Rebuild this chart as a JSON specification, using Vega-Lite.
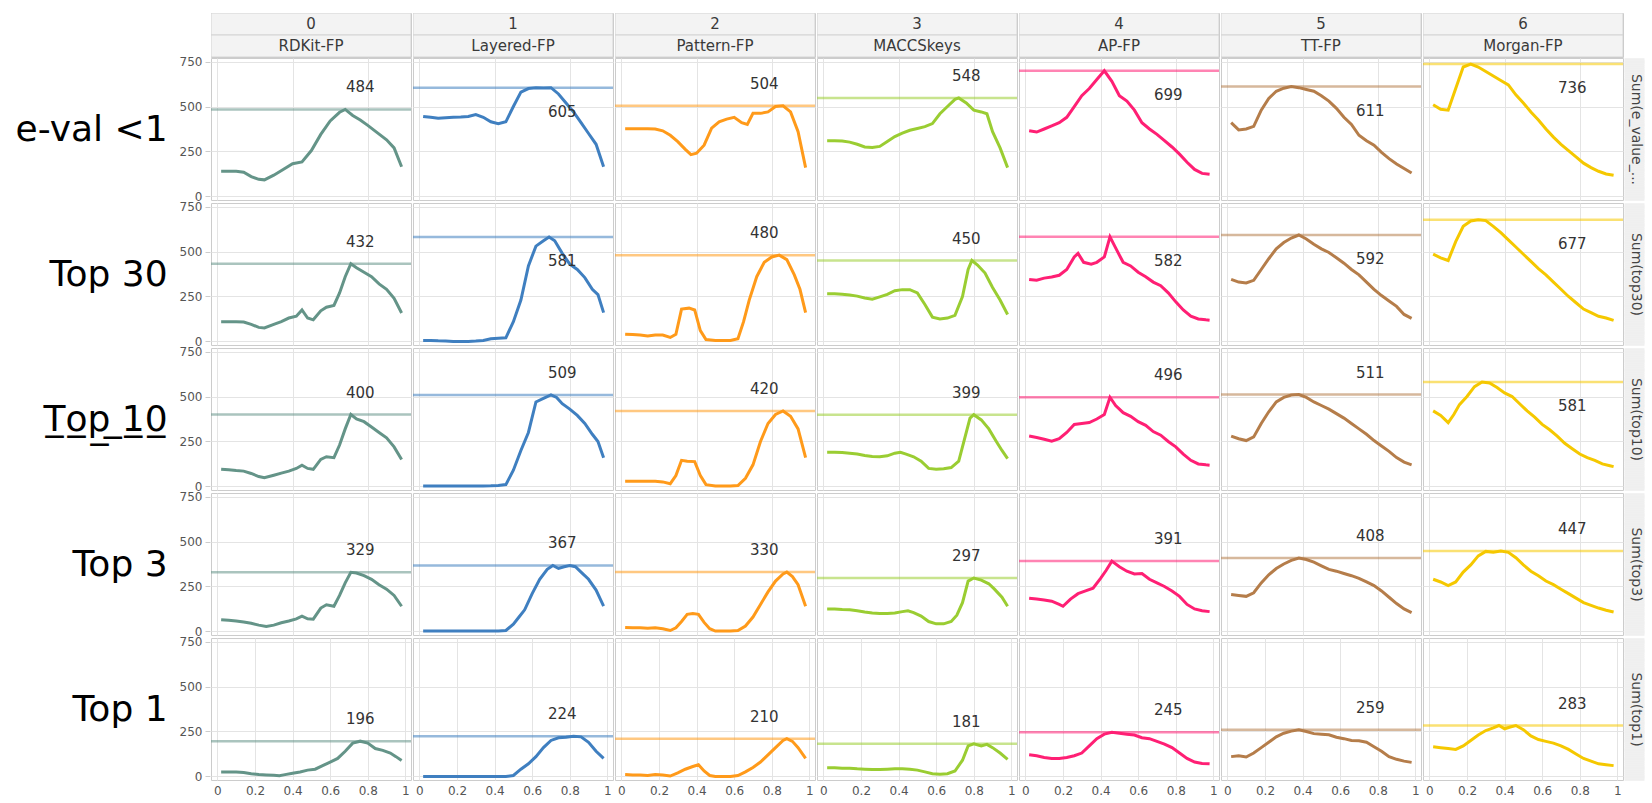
{
"$schema":"https://vega.github.io/schema/vega-lite/v6.json",
"background":"white",
"padding":{"left":15,"top":12,"right":0,"bottom":0},
"spacing":-5,
"config":{"view":{"stroke":"#cccccc"},"font":"DejaVu Sans","facet":{"spacing":0},
"axis":{"gridColor":"#e4e4e4","labelFont":"DejaVu Sans","labelColor":"#555555","labelFontSize":12,"titleFont":"DejaVu Sans"},
"axisX":{"labelOverlap":false,"labelSeparation":0}},
"datasets":{
"h":[{"f":0,"l":1,"t":"0"},{"f":0,"l":2,"t":"RDKit-FP"},{"f":1,"l":1,"t":"1"},{"f":1,"l":2,"t":"Layered-FP"},{"f":2,"l":1,"t":"2"},{"f":2,"l":2,"t":"Pattern-FP"},{"f":3,"l":1,"t":"3"},{"f":3,"l":2,"t":"MACCSkeys"},{"f":4,"l":1,"t":"4"},{"f":4,"l":2,"t":"AP-FP"},{"f":5,"l":1,"t":"5"},{"f":5,"l":2,"t":"TT-FP"},{"f":6,"l":1,"t":"6"},{"f":6,"l":2,"t":"Morgan-FP"}],
"d":[
{"r":"e","f":0,"x":0.02,"v":140},{"r":"e","f":0,"x":0.06,"v":140},{"r":"e","f":0,"x":0.1,"v":140},{"r":"e","f":0,"x":0.14,"v":135},{"r":"e","f":0,"x":0.18,"v":110},{"r":"e","f":0,"x":0.22,"v":95},{"r":"e","f":0,"x":0.25,"v":92},{"r":"e","f":0,"x":0.3,"v":118},{"r":"e","f":0,"x":0.35,"v":150},{"r":"e","f":0,"x":0.4,"v":182},{"r":"e","f":0,"x":0.45,"v":192},{"r":"e","f":0,"x":0.5,"v":255},{"r":"e","f":0,"x":0.55,"v":345},{"r":"e","f":0,"x":0.6,"v":420},{"r":"e","f":0,"x":0.65,"v":468},{"r":"e","f":0,"x":0.68,"v":484},{"r":"e","f":0,"x":0.72,"v":450},{"r":"e","f":0,"x":0.76,"v":425},{"r":"e","f":0,"x":0.8,"v":395},{"r":"e","f":0,"x":0.85,"v":355},{"r":"e","f":0,"x":0.9,"v":315},{"r":"e","f":0,"x":0.94,"v":270},{"r":"e","f":0,"x":0.98,"v":165},
{"r":"e","f":1,"x":0.02,"v":445},{"r":"e","f":1,"x":0.06,"v":440},{"r":"e","f":1,"x":0.1,"v":435},{"r":"e","f":1,"x":0.14,"v":438},{"r":"e","f":1,"x":0.18,"v":440},{"r":"e","f":1,"x":0.22,"v":442},{"r":"e","f":1,"x":0.26,"v":445},{"r":"e","f":1,"x":0.3,"v":455},{"r":"e","f":1,"x":0.34,"v":440},{"r":"e","f":1,"x":0.38,"v":415},{"r":"e","f":1,"x":0.42,"v":405},{"r":"e","f":1,"x":0.46,"v":415},{"r":"e","f":1,"x":0.5,"v":500},{"r":"e","f":1,"x":0.54,"v":580},{"r":"e","f":1,"x":0.58,"v":600},{"r":"e","f":1,"x":0.62,"v":605},{"r":"e","f":1,"x":0.66,"v":603},{"r":"e","f":1,"x":0.7,"v":605},{"r":"e","f":1,"x":0.74,"v":570},{"r":"e","f":1,"x":0.78,"v":520},{"r":"e","f":1,"x":0.82,"v":470},{"r":"e","f":1,"x":0.86,"v":410},{"r":"e","f":1,"x":0.9,"v":350},{"r":"e","f":1,"x":0.94,"v":290},{"r":"e","f":1,"x":0.98,"v":165},
{"r":"e","f":2,"x":0.02,"v":376},{"r":"e","f":2,"x":0.06,"v":376},{"r":"e","f":2,"x":0.1,"v":376},{"r":"e","f":2,"x":0.14,"v":376},{"r":"e","f":2,"x":0.18,"v":375},{"r":"e","f":2,"x":0.22,"v":365},{"r":"e","f":2,"x":0.26,"v":340},{"r":"e","f":2,"x":0.3,"v":305},{"r":"e","f":2,"x":0.34,"v":262},{"r":"e","f":2,"x":0.37,"v":232},{"r":"e","f":2,"x":0.4,"v":240},{"r":"e","f":2,"x":0.44,"v":285},{"r":"e","f":2,"x":0.48,"v":380},{"r":"e","f":2,"x":0.52,"v":415},{"r":"e","f":2,"x":0.56,"v":430},{"r":"e","f":2,"x":0.6,"v":440},{"r":"e","f":2,"x":0.64,"v":410},{"r":"e","f":2,"x":0.67,"v":400},{"r":"e","f":2,"x":0.7,"v":462},{"r":"e","f":2,"x":0.74,"v":462},{"r":"e","f":2,"x":0.78,"v":470},{"r":"e","f":2,"x":0.82,"v":500},{"r":"e","f":2,"x":0.86,"v":504},{"r":"e","f":2,"x":0.9,"v":470},{"r":"e","f":2,"x":0.94,"v":360},{"r":"e","f":2,"x":0.98,"v":160},
{"r":"e","f":3,"x":0.02,"v":310},{"r":"e","f":3,"x":0.06,"v":310},{"r":"e","f":3,"x":0.1,"v":308},{"r":"e","f":3,"x":0.14,"v":302},{"r":"e","f":3,"x":0.18,"v":290},{"r":"e","f":3,"x":0.22,"v":275},{"r":"e","f":3,"x":0.26,"v":272},{"r":"e","f":3,"x":0.3,"v":278},{"r":"e","f":3,"x":0.34,"v":305},{"r":"e","f":3,"x":0.38,"v":333},{"r":"e","f":3,"x":0.42,"v":352},{"r":"e","f":3,"x":0.46,"v":368},{"r":"e","f":3,"x":0.5,"v":378},{"r":"e","f":3,"x":0.54,"v":388},{"r":"e","f":3,"x":0.58,"v":405},{"r":"e","f":3,"x":0.62,"v":460},{"r":"e","f":3,"x":0.66,"v":500},{"r":"e","f":3,"x":0.7,"v":540},{"r":"e","f":3,"x":0.72,"v":548},{"r":"e","f":3,"x":0.76,"v":520},{"r":"e","f":3,"x":0.8,"v":480},{"r":"e","f":3,"x":0.84,"v":470},{"r":"e","f":3,"x":0.87,"v":460},{"r":"e","f":3,"x":0.9,"v":360},{"r":"e","f":3,"x":0.94,"v":270},{"r":"e","f":3,"x":0.98,"v":160},
{"r":"e","f":4,"x":0.02,"v":365},{"r":"e","f":4,"x":0.06,"v":358},{"r":"e","f":4,"x":0.1,"v":375},{"r":"e","f":4,"x":0.14,"v":392},{"r":"e","f":4,"x":0.18,"v":410},{"r":"e","f":4,"x":0.22,"v":440},{"r":"e","f":4,"x":0.26,"v":500},{"r":"e","f":4,"x":0.3,"v":560},{"r":"e","f":4,"x":0.34,"v":600},{"r":"e","f":4,"x":0.38,"v":650},{"r":"e","f":4,"x":0.42,"v":699},{"r":"e","f":4,"x":0.46,"v":640},{"r":"e","f":4,"x":0.5,"v":560},{"r":"e","f":4,"x":0.54,"v":530},{"r":"e","f":4,"x":0.58,"v":480},{"r":"e","f":4,"x":0.62,"v":410},{"r":"e","f":4,"x":0.66,"v":375},{"r":"e","f":4,"x":0.7,"v":345},{"r":"e","f":4,"x":0.74,"v":310},{"r":"e","f":4,"x":0.78,"v":275},{"r":"e","f":4,"x":0.82,"v":235},{"r":"e","f":4,"x":0.86,"v":190},{"r":"e","f":4,"x":0.9,"v":150},{"r":"e","f":4,"x":0.94,"v":128},{"r":"e","f":4,"x":0.98,"v":123},
{"r":"e","f":5,"x":0.02,"v":410},{"r":"e","f":5,"x":0.06,"v":370},{"r":"e","f":5,"x":0.1,"v":375},{"r":"e","f":5,"x":0.14,"v":390},{"r":"e","f":5,"x":0.18,"v":480},{"r":"e","f":5,"x":0.22,"v":545},{"r":"e","f":5,"x":0.26,"v":585},{"r":"e","f":5,"x":0.3,"v":602},{"r":"e","f":5,"x":0.34,"v":611},{"r":"e","f":5,"x":0.38,"v":605},{"r":"e","f":5,"x":0.42,"v":595},{"r":"e","f":5,"x":0.46,"v":585},{"r":"e","f":5,"x":0.5,"v":560},{"r":"e","f":5,"x":0.54,"v":530},{"r":"e","f":5,"x":0.58,"v":490},{"r":"e","f":5,"x":0.62,"v":440},{"r":"e","f":5,"x":0.66,"v":400},{"r":"e","f":5,"x":0.7,"v":340},{"r":"e","f":5,"x":0.74,"v":310},{"r":"e","f":5,"x":0.78,"v":285},{"r":"e","f":5,"x":0.82,"v":245},{"r":"e","f":5,"x":0.86,"v":210},{"r":"e","f":5,"x":0.9,"v":180},{"r":"e","f":5,"x":0.94,"v":155},{"r":"e","f":5,"x":0.98,"v":130},
{"r":"e","f":6,"x":0.02,"v":510},{"r":"e","f":6,"x":0.06,"v":485},{"r":"e","f":6,"x":0.1,"v":480},{"r":"e","f":6,"x":0.14,"v":600},{"r":"e","f":6,"x":0.18,"v":720},{"r":"e","f":6,"x":0.22,"v":736},{"r":"e","f":6,"x":0.26,"v":720},{"r":"e","f":6,"x":0.3,"v":695},{"r":"e","f":6,"x":0.34,"v":670},{"r":"e","f":6,"x":0.38,"v":645},{"r":"e","f":6,"x":0.42,"v":620},{"r":"e","f":6,"x":0.46,"v":565},{"r":"e","f":6,"x":0.5,"v":520},{"r":"e","f":6,"x":0.54,"v":470},{"r":"e","f":6,"x":0.58,"v":425},{"r":"e","f":6,"x":0.62,"v":375},{"r":"e","f":6,"x":0.66,"v":330},{"r":"e","f":6,"x":0.7,"v":290},{"r":"e","f":6,"x":0.74,"v":255},{"r":"e","f":6,"x":0.78,"v":220},{"r":"e","f":6,"x":0.82,"v":185},{"r":"e","f":6,"x":0.86,"v":160},{"r":"e","f":6,"x":0.9,"v":140},{"r":"e","f":6,"x":0.94,"v":125},{"r":"e","f":6,"x":0.98,"v":118},
{"r":"t30","f":0,"x":0.02,"v":110},{"r":"t30","f":0,"x":0.06,"v":110},{"r":"t30","f":0,"x":0.1,"v":110},{"r":"t30","f":0,"x":0.14,"v":108},{"r":"t30","f":0,"x":0.18,"v":95},{"r":"t30","f":0,"x":0.22,"v":78},{"r":"t30","f":0,"x":0.25,"v":75},{"r":"t30","f":0,"x":0.3,"v":95},{"r":"t30","f":0,"x":0.34,"v":110},{"r":"t30","f":0,"x":0.38,"v":130},{"r":"t30","f":0,"x":0.42,"v":140},{"r":"t30","f":0,"x":0.45,"v":175},{"r":"t30","f":0,"x":0.48,"v":130},{"r":"t30","f":0,"x":0.51,"v":120},{"r":"t30","f":0,"x":0.55,"v":170},{"r":"t30","f":0,"x":0.58,"v":190},{"r":"t30","f":0,"x":0.62,"v":200},{"r":"t30","f":0,"x":0.65,"v":270},{"r":"t30","f":0,"x":0.68,"v":360},{"r":"t30","f":0,"x":0.71,"v":432},{"r":"t30","f":0,"x":0.74,"v":410},{"r":"t30","f":0,"x":0.78,"v":385},{"r":"t30","f":0,"x":0.82,"v":360},{"r":"t30","f":0,"x":0.86,"v":320},{"r":"t30","f":0,"x":0.9,"v":290},{"r":"t30","f":0,"x":0.94,"v":240},{"r":"t30","f":0,"x":0.98,"v":158},
{"r":"t30","f":1,"x":0.02,"v":5},{"r":"t30","f":1,"x":0.06,"v":5},{"r":"t30","f":1,"x":0.1,"v":3},{"r":"t30","f":1,"x":0.14,"v":2},{"r":"t30","f":1,"x":0.18,"v":0},{"r":"t30","f":1,"x":0.22,"v":0},{"r":"t30","f":1,"x":0.26,"v":0},{"r":"t30","f":1,"x":0.3,"v":2},{"r":"t30","f":1,"x":0.34,"v":5},{"r":"t30","f":1,"x":0.38,"v":15},{"r":"t30","f":1,"x":0.42,"v":18},{"r":"t30","f":1,"x":0.46,"v":20},{"r":"t30","f":1,"x":0.5,"v":110},{"r":"t30","f":1,"x":0.54,"v":230},{"r":"t30","f":1,"x":0.58,"v":420},{"r":"t30","f":1,"x":0.62,"v":530},{"r":"t30","f":1,"x":0.66,"v":560},{"r":"t30","f":1,"x":0.69,"v":581},{"r":"t30","f":1,"x":0.72,"v":560},{"r":"t30","f":1,"x":0.76,"v":490},{"r":"t30","f":1,"x":0.8,"v":430},{"r":"t30","f":1,"x":0.84,"v":400},{"r":"t30","f":1,"x":0.88,"v":355},{"r":"t30","f":1,"x":0.92,"v":290},{"r":"t30","f":1,"x":0.95,"v":260},{"r":"t30","f":1,"x":0.98,"v":160},
{"r":"t30","f":2,"x":0.02,"v":40},{"r":"t30","f":2,"x":0.06,"v":38},{"r":"t30","f":2,"x":0.1,"v":35},{"r":"t30","f":2,"x":0.14,"v":30},{"r":"t30","f":2,"x":0.18,"v":35},{"r":"t30","f":2,"x":0.22,"v":35},{"r":"t30","f":2,"x":0.26,"v":22},{"r":"t30","f":2,"x":0.29,"v":40},{"r":"t30","f":2,"x":0.32,"v":180},{"r":"t30","f":2,"x":0.36,"v":185},{"r":"t30","f":2,"x":0.39,"v":175},{"r":"t30","f":2,"x":0.42,"v":60},{"r":"t30","f":2,"x":0.45,"v":10},{"r":"t30","f":2,"x":0.5,"v":5},{"r":"t30","f":2,"x":0.54,"v":5},{"r":"t30","f":2,"x":0.58,"v":5},{"r":"t30","f":2,"x":0.62,"v":15},{"r":"t30","f":2,"x":0.65,"v":110},{"r":"t30","f":2,"x":0.68,"v":230},{"r":"t30","f":2,"x":0.72,"v":360},{"r":"t30","f":2,"x":0.76,"v":440},{"r":"t30","f":2,"x":0.8,"v":470},{"r":"t30","f":2,"x":0.84,"v":480},{"r":"t30","f":2,"x":0.88,"v":455},{"r":"t30","f":2,"x":0.92,"v":370},{"r":"t30","f":2,"x":0.95,"v":290},{"r":"t30","f":2,"x":0.98,"v":160},
{"r":"t30","f":3,"x":0.02,"v":265},{"r":"t30","f":3,"x":0.06,"v":265},{"r":"t30","f":3,"x":0.1,"v":262},{"r":"t30","f":3,"x":0.14,"v":258},{"r":"t30","f":3,"x":0.18,"v":252},{"r":"t30","f":3,"x":0.22,"v":242},{"r":"t30","f":3,"x":0.26,"v":235},{"r":"t30","f":3,"x":0.3,"v":248},{"r":"t30","f":3,"x":0.34,"v":262},{"r":"t30","f":3,"x":0.38,"v":282},{"r":"t30","f":3,"x":0.42,"v":288},{"r":"t30","f":3,"x":0.46,"v":288},{"r":"t30","f":3,"x":0.5,"v":270},{"r":"t30","f":3,"x":0.54,"v":205},{"r":"t30","f":3,"x":0.58,"v":135},{"r":"t30","f":3,"x":0.62,"v":125},{"r":"t30","f":3,"x":0.66,"v":130},{"r":"t30","f":3,"x":0.7,"v":145},{"r":"t30","f":3,"x":0.74,"v":250},{"r":"t30","f":3,"x":0.77,"v":400},{"r":"t30","f":3,"x":0.79,"v":450},{"r":"t30","f":3,"x":0.82,"v":425},{"r":"t30","f":3,"x":0.86,"v":380},{"r":"t30","f":3,"x":0.9,"v":300},{"r":"t30","f":3,"x":0.94,"v":230},{"r":"t30","f":3,"x":0.98,"v":150},
{"r":"t30","f":4,"x":0.02,"v":345},{"r":"t30","f":4,"x":0.06,"v":340},{"r":"t30","f":4,"x":0.1,"v":352},{"r":"t30","f":4,"x":0.14,"v":358},{"r":"t30","f":4,"x":0.18,"v":368},{"r":"t30","f":4,"x":0.22,"v":400},{"r":"t30","f":4,"x":0.26,"v":470},{"r":"t30","f":4,"x":0.28,"v":490},{"r":"t30","f":4,"x":0.31,"v":440},{"r":"t30","f":4,"x":0.35,"v":430},{"r":"t30","f":4,"x":0.38,"v":440},{"r":"t30","f":4,"x":0.42,"v":470},{"r":"t30","f":4,"x":0.45,"v":582},{"r":"t30","f":4,"x":0.48,"v":520},{"r":"t30","f":4,"x":0.52,"v":440},{"r":"t30","f":4,"x":0.56,"v":420},{"r":"t30","f":4,"x":0.6,"v":385},{"r":"t30","f":4,"x":0.64,"v":360},{"r":"t30","f":4,"x":0.68,"v":330},{"r":"t30","f":4,"x":0.72,"v":310},{"r":"t30","f":4,"x":0.76,"v":270},{"r":"t30","f":4,"x":0.8,"v":220},{"r":"t30","f":4,"x":0.84,"v":175},{"r":"t30","f":4,"x":0.88,"v":140},{"r":"t30","f":4,"x":0.92,"v":125},{"r":"t30","f":4,"x":0.96,"v":120},{"r":"t30","f":4,"x":0.98,"v":118},
{"r":"t30","f":5,"x":0.02,"v":345},{"r":"t30","f":5,"x":0.06,"v":330},{"r":"t30","f":5,"x":0.1,"v":325},{"r":"t30","f":5,"x":0.14,"v":340},{"r":"t30","f":5,"x":0.18,"v":400},{"r":"t30","f":5,"x":0.22,"v":460},{"r":"t30","f":5,"x":0.26,"v":515},{"r":"t30","f":5,"x":0.3,"v":550},{"r":"t30","f":5,"x":0.34,"v":575},{"r":"t30","f":5,"x":0.38,"v":592},{"r":"t30","f":5,"x":0.42,"v":570},{"r":"t30","f":5,"x":0.46,"v":540},{"r":"t30","f":5,"x":0.5,"v":515},{"r":"t30","f":5,"x":0.54,"v":495},{"r":"t30","f":5,"x":0.58,"v":465},{"r":"t30","f":5,"x":0.62,"v":435},{"r":"t30","f":5,"x":0.66,"v":400},{"r":"t30","f":5,"x":0.7,"v":370},{"r":"t30","f":5,"x":0.74,"v":330},{"r":"t30","f":5,"x":0.78,"v":290},{"r":"t30","f":5,"x":0.82,"v":255},{"r":"t30","f":5,"x":0.86,"v":225},{"r":"t30","f":5,"x":0.9,"v":195},{"r":"t30","f":5,"x":0.94,"v":150},{"r":"t30","f":5,"x":0.98,"v":128},
{"r":"t30","f":6,"x":0.02,"v":485},{"r":"t30","f":6,"x":0.06,"v":465},{"r":"t30","f":6,"x":0.1,"v":450},{"r":"t30","f":6,"x":0.14,"v":555},{"r":"t30","f":6,"x":0.18,"v":640},{"r":"t30","f":6,"x":0.22,"v":670},{"r":"t30","f":6,"x":0.26,"v":677},{"r":"t30","f":6,"x":0.3,"v":672},{"r":"t30","f":6,"x":0.34,"v":640},{"r":"t30","f":6,"x":0.38,"v":605},{"r":"t30","f":6,"x":0.42,"v":565},{"r":"t30","f":6,"x":0.46,"v":525},{"r":"t30","f":6,"x":0.5,"v":485},{"r":"t30","f":6,"x":0.54,"v":445},{"r":"t30","f":6,"x":0.58,"v":405},{"r":"t30","f":6,"x":0.62,"v":370},{"r":"t30","f":6,"x":0.66,"v":330},{"r":"t30","f":6,"x":0.7,"v":290},{"r":"t30","f":6,"x":0.74,"v":250},{"r":"t30","f":6,"x":0.78,"v":215},{"r":"t30","f":6,"x":0.82,"v":180},{"r":"t30","f":6,"x":0.86,"v":160},{"r":"t30","f":6,"x":0.9,"v":140},{"r":"t30","f":6,"x":0.94,"v":130},{"r":"t30","f":6,"x":0.98,"v":117},
{"r":"t10","f":0,"x":0.02,"v":95},{"r":"t10","f":0,"x":0.06,"v":92},{"r":"t10","f":0,"x":0.1,"v":88},{"r":"t10","f":0,"x":0.14,"v":85},{"r":"t10","f":0,"x":0.18,"v":72},{"r":"t10","f":0,"x":0.22,"v":55},{"r":"t10","f":0,"x":0.25,"v":48},{"r":"t10","f":0,"x":0.3,"v":62},{"r":"t10","f":0,"x":0.34,"v":74},{"r":"t10","f":0,"x":0.38,"v":85},{"r":"t10","f":0,"x":0.42,"v":100},{"r":"t10","f":0,"x":0.45,"v":118},{"r":"t10","f":0,"x":0.48,"v":100},{"r":"t10","f":0,"x":0.51,"v":95},{"r":"t10","f":0,"x":0.55,"v":150},{"r":"t10","f":0,"x":0.58,"v":165},{"r":"t10","f":0,"x":0.62,"v":160},{"r":"t10","f":0,"x":0.65,"v":230},{"r":"t10","f":0,"x":0.68,"v":320},{"r":"t10","f":0,"x":0.71,"v":400},{"r":"t10","f":0,"x":0.74,"v":375},{"r":"t10","f":0,"x":0.78,"v":360},{"r":"t10","f":0,"x":0.82,"v":330},{"r":"t10","f":0,"x":0.86,"v":300},{"r":"t10","f":0,"x":0.9,"v":270},{"r":"t10","f":0,"x":0.94,"v":220},{"r":"t10","f":0,"x":0.98,"v":150},
{"r":"t10","f":1,"x":0.02,"v":2},{"r":"t10","f":1,"x":0.06,"v":2},{"r":"t10","f":1,"x":0.1,"v":2},{"r":"t10","f":1,"x":0.14,"v":2},{"r":"t10","f":1,"x":0.18,"v":2},{"r":"t10","f":1,"x":0.22,"v":2},{"r":"t10","f":1,"x":0.26,"v":2},{"r":"t10","f":1,"x":0.3,"v":2},{"r":"t10","f":1,"x":0.34,"v":2},{"r":"t10","f":1,"x":0.38,"v":3},{"r":"t10","f":1,"x":0.42,"v":5},{"r":"t10","f":1,"x":0.46,"v":10},{"r":"t10","f":1,"x":0.5,"v":90},{"r":"t10","f":1,"x":0.54,"v":200},{"r":"t10","f":1,"x":0.58,"v":300},{"r":"t10","f":1,"x":0.62,"v":470},{"r":"t10","f":1,"x":0.66,"v":490},{"r":"t10","f":1,"x":0.7,"v":509},{"r":"t10","f":1,"x":0.73,"v":495},{"r":"t10","f":1,"x":0.76,"v":460},{"r":"t10","f":1,"x":0.8,"v":430},{"r":"t10","f":1,"x":0.84,"v":395},{"r":"t10","f":1,"x":0.88,"v":350},{"r":"t10","f":1,"x":0.92,"v":290},{"r":"t10","f":1,"x":0.95,"v":250},{"r":"t10","f":1,"x":0.98,"v":160},
{"r":"t10","f":2,"x":0.02,"v":28},{"r":"t10","f":2,"x":0.06,"v":28},{"r":"t10","f":2,"x":0.1,"v":28},{"r":"t10","f":2,"x":0.14,"v":28},{"r":"t10","f":2,"x":0.18,"v":28},{"r":"t10","f":2,"x":0.22,"v":25},{"r":"t10","f":2,"x":0.26,"v":15},{"r":"t10","f":2,"x":0.29,"v":60},{"r":"t10","f":2,"x":0.32,"v":145},{"r":"t10","f":2,"x":0.35,"v":140},{"r":"t10","f":2,"x":0.39,"v":138},{"r":"t10","f":2,"x":0.42,"v":60},{"r":"t10","f":2,"x":0.45,"v":10},{"r":"t10","f":2,"x":0.5,"v":2},{"r":"t10","f":2,"x":0.54,"v":2},{"r":"t10","f":2,"x":0.58,"v":2},{"r":"t10","f":2,"x":0.62,"v":5},{"r":"t10","f":2,"x":0.66,"v":45},{"r":"t10","f":2,"x":0.7,"v":120},{"r":"t10","f":2,"x":0.74,"v":250},{"r":"t10","f":2,"x":0.78,"v":350},{"r":"t10","f":2,"x":0.82,"v":400},{"r":"t10","f":2,"x":0.86,"v":420},{"r":"t10","f":2,"x":0.9,"v":390},{"r":"t10","f":2,"x":0.94,"v":320},{"r":"t10","f":2,"x":0.98,"v":160},
{"r":"t10","f":3,"x":0.02,"v":190},{"r":"t10","f":3,"x":0.06,"v":190},{"r":"t10","f":3,"x":0.1,"v":188},{"r":"t10","f":3,"x":0.14,"v":185},{"r":"t10","f":3,"x":0.18,"v":180},{"r":"t10","f":3,"x":0.22,"v":172},{"r":"t10","f":3,"x":0.26,"v":167},{"r":"t10","f":3,"x":0.3,"v":165},{"r":"t10","f":3,"x":0.34,"v":170},{"r":"t10","f":3,"x":0.38,"v":185},{"r":"t10","f":3,"x":0.41,"v":190},{"r":"t10","f":3,"x":0.44,"v":180},{"r":"t10","f":3,"x":0.48,"v":165},{"r":"t10","f":3,"x":0.52,"v":140},{"r":"t10","f":3,"x":0.56,"v":100},{"r":"t10","f":3,"x":0.6,"v":95},{"r":"t10","f":3,"x":0.64,"v":98},{"r":"t10","f":3,"x":0.68,"v":105},{"r":"t10","f":3,"x":0.72,"v":140},{"r":"t10","f":3,"x":0.75,"v":260},{"r":"t10","f":3,"x":0.78,"v":380},{"r":"t10","f":3,"x":0.8,"v":399},{"r":"t10","f":3,"x":0.84,"v":370},{"r":"t10","f":3,"x":0.88,"v":320},{"r":"t10","f":3,"x":0.92,"v":250},{"r":"t10","f":3,"x":0.95,"v":200},{"r":"t10","f":3,"x":0.98,"v":155},
{"r":"t10","f":4,"x":0.02,"v":280},{"r":"t10","f":4,"x":0.06,"v":272},{"r":"t10","f":4,"x":0.1,"v":262},{"r":"t10","f":4,"x":0.14,"v":252},{"r":"t10","f":4,"x":0.18,"v":265},{"r":"t10","f":4,"x":0.22,"v":300},{"r":"t10","f":4,"x":0.26,"v":345},{"r":"t10","f":4,"x":0.3,"v":350},{"r":"t10","f":4,"x":0.34,"v":355},{"r":"t10","f":4,"x":0.38,"v":375},{"r":"t10","f":4,"x":0.42,"v":400},{"r":"t10","f":4,"x":0.45,"v":496},{"r":"t10","f":4,"x":0.48,"v":450},{"r":"t10","f":4,"x":0.52,"v":410},{"r":"t10","f":4,"x":0.56,"v":390},{"r":"t10","f":4,"x":0.6,"v":360},{"r":"t10","f":4,"x":0.64,"v":340},{"r":"t10","f":4,"x":0.68,"v":305},{"r":"t10","f":4,"x":0.72,"v":285},{"r":"t10","f":4,"x":0.76,"v":250},{"r":"t10","f":4,"x":0.8,"v":220},{"r":"t10","f":4,"x":0.84,"v":180},{"r":"t10","f":4,"x":0.88,"v":145},{"r":"t10","f":4,"x":0.92,"v":125},{"r":"t10","f":4,"x":0.96,"v":120},{"r":"t10","f":4,"x":0.98,"v":118},
{"r":"t10","f":5,"x":0.02,"v":280},{"r":"t10","f":5,"x":0.06,"v":265},{"r":"t10","f":5,"x":0.1,"v":255},{"r":"t10","f":5,"x":0.14,"v":275},{"r":"t10","f":5,"x":0.18,"v":350},{"r":"t10","f":5,"x":0.22,"v":415},{"r":"t10","f":5,"x":0.26,"v":470},{"r":"t10","f":5,"x":0.3,"v":495},{"r":"t10","f":5,"x":0.34,"v":508},{"r":"t10","f":5,"x":0.38,"v":511},{"r":"t10","f":5,"x":0.42,"v":495},{"r":"t10","f":5,"x":0.46,"v":470},{"r":"t10","f":5,"x":0.5,"v":450},{"r":"t10","f":5,"x":0.54,"v":430},{"r":"t10","f":5,"x":0.58,"v":405},{"r":"t10","f":5,"x":0.62,"v":380},{"r":"t10","f":5,"x":0.66,"v":350},{"r":"t10","f":5,"x":0.7,"v":320},{"r":"t10","f":5,"x":0.74,"v":290},{"r":"t10","f":5,"x":0.78,"v":255},{"r":"t10","f":5,"x":0.82,"v":225},{"r":"t10","f":5,"x":0.86,"v":195},{"r":"t10","f":5,"x":0.9,"v":160},{"r":"t10","f":5,"x":0.94,"v":135},{"r":"t10","f":5,"x":0.98,"v":120},
{"r":"t10","f":6,"x":0.02,"v":420},{"r":"t10","f":6,"x":0.06,"v":395},{"r":"t10","f":6,"x":0.1,"v":355},{"r":"t10","f":6,"x":0.13,"v":400},{"r":"t10","f":6,"x":0.16,"v":455},{"r":"t10","f":6,"x":0.2,"v":500},{"r":"t10","f":6,"x":0.24,"v":555},{"r":"t10","f":6,"x":0.28,"v":581},{"r":"t10","f":6,"x":0.32,"v":575},{"r":"t10","f":6,"x":0.36,"v":550},{"r":"t10","f":6,"x":0.4,"v":520},{"r":"t10","f":6,"x":0.44,"v":500},{"r":"t10","f":6,"x":0.48,"v":460},{"r":"t10","f":6,"x":0.52,"v":420},{"r":"t10","f":6,"x":0.56,"v":385},{"r":"t10","f":6,"x":0.6,"v":345},{"r":"t10","f":6,"x":0.64,"v":315},{"r":"t10","f":6,"x":0.68,"v":280},{"r":"t10","f":6,"x":0.72,"v":240},{"r":"t10","f":6,"x":0.76,"v":210},{"r":"t10","f":6,"x":0.8,"v":180},{"r":"t10","f":6,"x":0.84,"v":160},{"r":"t10","f":6,"x":0.88,"v":145},{"r":"t10","f":6,"x":0.92,"v":125},{"r":"t10","f":6,"x":0.96,"v":115},{"r":"t10","f":6,"x":0.98,"v":110},
{"r":"t3","f":0,"x":0.02,"v":65},{"r":"t3","f":0,"x":0.06,"v":62},{"r":"t3","f":0,"x":0.1,"v":58},{"r":"t3","f":0,"x":0.14,"v":52},{"r":"t3","f":0,"x":0.18,"v":45},{"r":"t3","f":0,"x":0.22,"v":35},{"r":"t3","f":0,"x":0.26,"v":28},{"r":"t3","f":0,"x":0.3,"v":35},{"r":"t3","f":0,"x":0.34,"v":48},{"r":"t3","f":0,"x":0.38,"v":58},{"r":"t3","f":0,"x":0.42,"v":70},{"r":"t3","f":0,"x":0.45,"v":85},{"r":"t3","f":0,"x":0.48,"v":70},{"r":"t3","f":0,"x":0.51,"v":68},{"r":"t3","f":0,"x":0.55,"v":130},{"r":"t3","f":0,"x":0.58,"v":148},{"r":"t3","f":0,"x":0.62,"v":140},{"r":"t3","f":0,"x":0.65,"v":200},{"r":"t3","f":0,"x":0.68,"v":270},{"r":"t3","f":0,"x":0.71,"v":329},{"r":"t3","f":0,"x":0.74,"v":325},{"r":"t3","f":0,"x":0.78,"v":310},{"r":"t3","f":0,"x":0.82,"v":290},{"r":"t3","f":0,"x":0.86,"v":260},{"r":"t3","f":0,"x":0.9,"v":235},{"r":"t3","f":0,"x":0.94,"v":200},{"r":"t3","f":0,"x":0.98,"v":140},
{"r":"t3","f":1,"x":0.02,"v":2},{"r":"t3","f":1,"x":0.06,"v":2},{"r":"t3","f":1,"x":0.1,"v":2},{"r":"t3","f":1,"x":0.14,"v":2},{"r":"t3","f":1,"x":0.18,"v":2},{"r":"t3","f":1,"x":0.22,"v":2},{"r":"t3","f":1,"x":0.26,"v":2},{"r":"t3","f":1,"x":0.3,"v":2},{"r":"t3","f":1,"x":0.34,"v":2},{"r":"t3","f":1,"x":0.38,"v":2},{"r":"t3","f":1,"x":0.42,"v":2},{"r":"t3","f":1,"x":0.46,"v":5},{"r":"t3","f":1,"x":0.5,"v":40},{"r":"t3","f":1,"x":0.53,"v":80},{"r":"t3","f":1,"x":0.56,"v":120},{"r":"t3","f":1,"x":0.6,"v":210},{"r":"t3","f":1,"x":0.64,"v":290},{"r":"t3","f":1,"x":0.68,"v":345},{"r":"t3","f":1,"x":0.71,"v":367},{"r":"t3","f":1,"x":0.74,"v":350},{"r":"t3","f":1,"x":0.77,"v":360},{"r":"t3","f":1,"x":0.8,"v":367},{"r":"t3","f":1,"x":0.83,"v":360},{"r":"t3","f":1,"x":0.86,"v":330},{"r":"t3","f":1,"x":0.9,"v":290},{"r":"t3","f":1,"x":0.94,"v":230},{"r":"t3","f":1,"x":0.98,"v":140},
{"r":"t3","f":2,"x":0.02,"v":22},{"r":"t3","f":2,"x":0.06,"v":20},{"r":"t3","f":2,"x":0.1,"v":20},{"r":"t3","f":2,"x":0.14,"v":18},{"r":"t3","f":2,"x":0.18,"v":20},{"r":"t3","f":2,"x":0.22,"v":15},{"r":"t3","f":2,"x":0.26,"v":5},{"r":"t3","f":2,"x":0.29,"v":20},{"r":"t3","f":2,"x":0.32,"v":55},{"r":"t3","f":2,"x":0.35,"v":95},{"r":"t3","f":2,"x":0.38,"v":100},{"r":"t3","f":2,"x":0.41,"v":95},{"r":"t3","f":2,"x":0.44,"v":50},{"r":"t3","f":2,"x":0.47,"v":15},{"r":"t3","f":2,"x":0.5,"v":2},{"r":"t3","f":2,"x":0.54,"v":2},{"r":"t3","f":2,"x":0.58,"v":2},{"r":"t3","f":2,"x":0.62,"v":5},{"r":"t3","f":2,"x":0.66,"v":30},{"r":"t3","f":2,"x":0.7,"v":80},{"r":"t3","f":2,"x":0.74,"v":150},{"r":"t3","f":2,"x":0.78,"v":220},{"r":"t3","f":2,"x":0.82,"v":280},{"r":"t3","f":2,"x":0.86,"v":320},{"r":"t3","f":2,"x":0.88,"v":330},{"r":"t3","f":2,"x":0.91,"v":305},{"r":"t3","f":2,"x":0.94,"v":260},{"r":"t3","f":2,"x":0.98,"v":140},
{"r":"t3","f":3,"x":0.02,"v":125},{"r":"t3","f":3,"x":0.06,"v":125},{"r":"t3","f":3,"x":0.1,"v":122},{"r":"t3","f":3,"x":0.14,"v":120},{"r":"t3","f":3,"x":0.18,"v":115},{"r":"t3","f":3,"x":0.22,"v":108},{"r":"t3","f":3,"x":0.26,"v":102},{"r":"t3","f":3,"x":0.3,"v":100},{"r":"t3","f":3,"x":0.34,"v":100},{"r":"t3","f":3,"x":0.38,"v":102},{"r":"t3","f":3,"x":0.42,"v":110},{"r":"t3","f":3,"x":0.45,"v":115},{"r":"t3","f":3,"x":0.48,"v":105},{"r":"t3","f":3,"x":0.52,"v":85},{"r":"t3","f":3,"x":0.56,"v":55},{"r":"t3","f":3,"x":0.6,"v":42},{"r":"t3","f":3,"x":0.64,"v":42},{"r":"t3","f":3,"x":0.68,"v":55},{"r":"t3","f":3,"x":0.71,"v":90},{"r":"t3","f":3,"x":0.74,"v":160},{"r":"t3","f":3,"x":0.77,"v":280},{"r":"t3","f":3,"x":0.8,"v":297},{"r":"t3","f":3,"x":0.84,"v":285},{"r":"t3","f":3,"x":0.88,"v":265},{"r":"t3","f":3,"x":0.91,"v":235},{"r":"t3","f":3,"x":0.95,"v":190},{"r":"t3","f":3,"x":0.98,"v":140},
{"r":"t3","f":4,"x":0.02,"v":185},{"r":"t3","f":4,"x":0.06,"v":180},{"r":"t3","f":4,"x":0.1,"v":175},{"r":"t3","f":4,"x":0.14,"v":168},{"r":"t3","f":4,"x":0.18,"v":150},{"r":"t3","f":4,"x":0.2,"v":140},{"r":"t3","f":4,"x":0.24,"v":180},{"r":"t3","f":4,"x":0.28,"v":210},{"r":"t3","f":4,"x":0.32,"v":225},{"r":"t3","f":4,"x":0.36,"v":240},{"r":"t3","f":4,"x":0.4,"v":295},{"r":"t3","f":4,"x":0.43,"v":340},{"r":"t3","f":4,"x":0.46,"v":391},{"r":"t3","f":4,"x":0.5,"v":360},{"r":"t3","f":4,"x":0.54,"v":335},{"r":"t3","f":4,"x":0.58,"v":320},{"r":"t3","f":4,"x":0.62,"v":322},{"r":"t3","f":4,"x":0.66,"v":290},{"r":"t3","f":4,"x":0.7,"v":270},{"r":"t3","f":4,"x":0.74,"v":250},{"r":"t3","f":4,"x":0.78,"v":225},{"r":"t3","f":4,"x":0.82,"v":195},{"r":"t3","f":4,"x":0.86,"v":150},{"r":"t3","f":4,"x":0.9,"v":125},{"r":"t3","f":4,"x":0.94,"v":115},{"r":"t3","f":4,"x":0.98,"v":110},
{"r":"t3","f":5,"x":0.02,"v":205},{"r":"t3","f":5,"x":0.06,"v":200},{"r":"t3","f":5,"x":0.1,"v":195},{"r":"t3","f":5,"x":0.14,"v":215},{"r":"t3","f":5,"x":0.18,"v":270},{"r":"t3","f":5,"x":0.22,"v":315},{"r":"t3","f":5,"x":0.26,"v":350},{"r":"t3","f":5,"x":0.3,"v":375},{"r":"t3","f":5,"x":0.34,"v":395},{"r":"t3","f":5,"x":0.38,"v":408},{"r":"t3","f":5,"x":0.42,"v":400},{"r":"t3","f":5,"x":0.46,"v":385},{"r":"t3","f":5,"x":0.5,"v":365},{"r":"t3","f":5,"x":0.54,"v":345},{"r":"t3","f":5,"x":0.58,"v":335},{"r":"t3","f":5,"x":0.62,"v":322},{"r":"t3","f":5,"x":0.66,"v":310},{"r":"t3","f":5,"x":0.7,"v":295},{"r":"t3","f":5,"x":0.74,"v":275},{"r":"t3","f":5,"x":0.78,"v":255},{"r":"t3","f":5,"x":0.82,"v":225},{"r":"t3","f":5,"x":0.86,"v":190},{"r":"t3","f":5,"x":0.9,"v":155},{"r":"t3","f":5,"x":0.94,"v":125},{"r":"t3","f":5,"x":0.98,"v":105},
{"r":"t3","f":6,"x":0.02,"v":290},{"r":"t3","f":6,"x":0.06,"v":275},{"r":"t3","f":6,"x":0.1,"v":255},{"r":"t3","f":6,"x":0.14,"v":275},{"r":"t3","f":6,"x":0.18,"v":330},{"r":"t3","f":6,"x":0.22,"v":370},{"r":"t3","f":6,"x":0.26,"v":420},{"r":"t3","f":6,"x":0.3,"v":445},{"r":"t3","f":6,"x":0.34,"v":440},{"r":"t3","f":6,"x":0.38,"v":447},{"r":"t3","f":6,"x":0.42,"v":440},{"r":"t3","f":6,"x":0.46,"v":410},{"r":"t3","f":6,"x":0.5,"v":370},{"r":"t3","f":6,"x":0.54,"v":335},{"r":"t3","f":6,"x":0.58,"v":310},{"r":"t3","f":6,"x":0.62,"v":280},{"r":"t3","f":6,"x":0.66,"v":260},{"r":"t3","f":6,"x":0.7,"v":235},{"r":"t3","f":6,"x":0.74,"v":210},{"r":"t3","f":6,"x":0.78,"v":185},{"r":"t3","f":6,"x":0.82,"v":160},{"r":"t3","f":6,"x":0.86,"v":145},{"r":"t3","f":6,"x":0.9,"v":130},{"r":"t3","f":6,"x":0.94,"v":118},{"r":"t3","f":6,"x":0.98,"v":108},
{"r":"t1","f":0,"x":0.02,"v":25},{"r":"t1","f":0,"x":0.06,"v":25},{"r":"t1","f":0,"x":0.1,"v":24},{"r":"t1","f":0,"x":0.14,"v":22},{"r":"t1","f":0,"x":0.18,"v":15},{"r":"t1","f":0,"x":0.22,"v":10},{"r":"t1","f":0,"x":0.26,"v":8},{"r":"t1","f":0,"x":0.3,"v":6},{"r":"t1","f":0,"x":0.33,"v":4},{"r":"t1","f":0,"x":0.36,"v":10},{"r":"t1","f":0,"x":0.4,"v":18},{"r":"t1","f":0,"x":0.44,"v":25},{"r":"t1","f":0,"x":0.48,"v":35},{"r":"t1","f":0,"x":0.52,"v":40},{"r":"t1","f":0,"x":0.56,"v":60},{"r":"t1","f":0,"x":0.6,"v":80},{"r":"t1","f":0,"x":0.64,"v":100},{"r":"t1","f":0,"x":0.68,"v":140},{"r":"t1","f":0,"x":0.72,"v":185},{"r":"t1","f":0,"x":0.76,"v":196},{"r":"t1","f":0,"x":0.8,"v":185},{"r":"t1","f":0,"x":0.84,"v":155},{"r":"t1","f":0,"x":0.88,"v":145},{"r":"t1","f":0,"x":0.92,"v":130},{"r":"t1","f":0,"x":0.95,"v":110},{"r":"t1","f":0,"x":0.98,"v":88},
{"r":"t1","f":1,"x":0.02,"v":0},{"r":"t1","f":1,"x":0.06,"v":0},{"r":"t1","f":1,"x":0.1,"v":0},{"r":"t1","f":1,"x":0.14,"v":0},{"r":"t1","f":1,"x":0.18,"v":0},{"r":"t1","f":1,"x":0.22,"v":0},{"r":"t1","f":1,"x":0.26,"v":0},{"r":"t1","f":1,"x":0.3,"v":0},{"r":"t1","f":1,"x":0.34,"v":0},{"r":"t1","f":1,"x":0.38,"v":0},{"r":"t1","f":1,"x":0.42,"v":0},{"r":"t1","f":1,"x":0.46,"v":0},{"r":"t1","f":1,"x":0.5,"v":5},{"r":"t1","f":1,"x":0.54,"v":40},{"r":"t1","f":1,"x":0.58,"v":70},{"r":"t1","f":1,"x":0.62,"v":110},{"r":"t1","f":1,"x":0.66,"v":160},{"r":"t1","f":1,"x":0.7,"v":200},{"r":"t1","f":1,"x":0.74,"v":215},{"r":"t1","f":1,"x":0.78,"v":218},{"r":"t1","f":1,"x":0.82,"v":224},{"r":"t1","f":1,"x":0.86,"v":220},{"r":"t1","f":1,"x":0.9,"v":190},{"r":"t1","f":1,"x":0.94,"v":140},{"r":"t1","f":1,"x":0.98,"v":100},
{"r":"t1","f":2,"x":0.02,"v":10},{"r":"t1","f":2,"x":0.06,"v":8},{"r":"t1","f":2,"x":0.1,"v":8},{"r":"t1","f":2,"x":0.14,"v":5},{"r":"t1","f":2,"x":0.18,"v":10},{"r":"t1","f":2,"x":0.22,"v":8},{"r":"t1","f":2,"x":0.26,"v":2},{"r":"t1","f":2,"x":0.3,"v":20},{"r":"t1","f":2,"x":0.34,"v":40},{"r":"t1","f":2,"x":0.38,"v":55},{"r":"t1","f":2,"x":0.41,"v":65},{"r":"t1","f":2,"x":0.44,"v":30},{"r":"t1","f":2,"x":0.47,"v":5},{"r":"t1","f":2,"x":0.5,"v":0},{"r":"t1","f":2,"x":0.54,"v":0},{"r":"t1","f":2,"x":0.58,"v":0},{"r":"t1","f":2,"x":0.62,"v":5},{"r":"t1","f":2,"x":0.66,"v":25},{"r":"t1","f":2,"x":0.7,"v":50},{"r":"t1","f":2,"x":0.74,"v":80},{"r":"t1","f":2,"x":0.78,"v":120},{"r":"t1","f":2,"x":0.82,"v":160},{"r":"t1","f":2,"x":0.86,"v":200},{"r":"t1","f":2,"x":0.88,"v":210},{"r":"t1","f":2,"x":0.91,"v":195},{"r":"t1","f":2,"x":0.94,"v":160},{"r":"t1","f":2,"x":0.98,"v":100},
{"r":"t1","f":3,"x":0.02,"v":48},{"r":"t1","f":3,"x":0.06,"v":48},{"r":"t1","f":3,"x":0.1,"v":46},{"r":"t1","f":3,"x":0.14,"v":45},{"r":"t1","f":3,"x":0.18,"v":42},{"r":"t1","f":3,"x":0.22,"v":40},{"r":"t1","f":3,"x":0.26,"v":38},{"r":"t1","f":3,"x":0.3,"v":38},{"r":"t1","f":3,"x":0.34,"v":40},{"r":"t1","f":3,"x":0.38,"v":42},{"r":"t1","f":3,"x":0.42,"v":42},{"r":"t1","f":3,"x":0.46,"v":40},{"r":"t1","f":3,"x":0.5,"v":35},{"r":"t1","f":3,"x":0.54,"v":25},{"r":"t1","f":3,"x":0.58,"v":15},{"r":"t1","f":3,"x":0.62,"v":12},{"r":"t1","f":3,"x":0.66,"v":15},{"r":"t1","f":3,"x":0.7,"v":30},{"r":"t1","f":3,"x":0.74,"v":90},{"r":"t1","f":3,"x":0.77,"v":170},{"r":"t1","f":3,"x":0.8,"v":181},{"r":"t1","f":3,"x":0.84,"v":170},{"r":"t1","f":3,"x":0.87,"v":178},{"r":"t1","f":3,"x":0.9,"v":160},{"r":"t1","f":3,"x":0.94,"v":130},{"r":"t1","f":3,"x":0.98,"v":95},
{"r":"t1","f":4,"x":0.02,"v":120},{"r":"t1","f":4,"x":0.06,"v":115},{"r":"t1","f":4,"x":0.1,"v":105},{"r":"t1","f":4,"x":0.14,"v":100},{"r":"t1","f":4,"x":0.18,"v":100},{"r":"t1","f":4,"x":0.22,"v":105},{"r":"t1","f":4,"x":0.26,"v":115},{"r":"t1","f":4,"x":0.3,"v":130},{"r":"t1","f":4,"x":0.34,"v":170},{"r":"t1","f":4,"x":0.38,"v":210},{"r":"t1","f":4,"x":0.42,"v":235},{"r":"t1","f":4,"x":0.46,"v":245},{"r":"t1","f":4,"x":0.5,"v":240},{"r":"t1","f":4,"x":0.54,"v":235},{"r":"t1","f":4,"x":0.58,"v":230},{"r":"t1","f":4,"x":0.62,"v":215},{"r":"t1","f":4,"x":0.66,"v":210},{"r":"t1","f":4,"x":0.7,"v":195},{"r":"t1","f":4,"x":0.74,"v":180},{"r":"t1","f":4,"x":0.78,"v":160},{"r":"t1","f":4,"x":0.82,"v":130},{"r":"t1","f":4,"x":0.86,"v":100},{"r":"t1","f":4,"x":0.9,"v":80},{"r":"t1","f":4,"x":0.94,"v":72},{"r":"t1","f":4,"x":0.98,"v":70},
{"r":"t1","f":5,"x":0.02,"v":110},{"r":"t1","f":5,"x":0.06,"v":115},{"r":"t1","f":5,"x":0.1,"v":108},{"r":"t1","f":5,"x":0.14,"v":130},{"r":"t1","f":5,"x":0.18,"v":160},{"r":"t1","f":5,"x":0.22,"v":190},{"r":"t1","f":5,"x":0.26,"v":220},{"r":"t1","f":5,"x":0.3,"v":240},{"r":"t1","f":5,"x":0.34,"v":252},{"r":"t1","f":5,"x":0.38,"v":259},{"r":"t1","f":5,"x":0.42,"v":250},{"r":"t1","f":5,"x":0.46,"v":238},{"r":"t1","f":5,"x":0.5,"v":235},{"r":"t1","f":5,"x":0.54,"v":232},{"r":"t1","f":5,"x":0.58,"v":218},{"r":"t1","f":5,"x":0.62,"v":210},{"r":"t1","f":5,"x":0.66,"v":200},{"r":"t1","f":5,"x":0.7,"v":198},{"r":"t1","f":5,"x":0.74,"v":190},{"r":"t1","f":5,"x":0.78,"v":165},{"r":"t1","f":5,"x":0.82,"v":140},{"r":"t1","f":5,"x":0.86,"v":110},{"r":"t1","f":5,"x":0.9,"v":95},{"r":"t1","f":5,"x":0.94,"v":85},{"r":"t1","f":5,"x":0.98,"v":78},
{"r":"t1","f":6,"x":0.02,"v":165},{"r":"t1","f":6,"x":0.06,"v":160},{"r":"t1","f":6,"x":0.1,"v":155},{"r":"t1","f":6,"x":0.14,"v":150},{"r":"t1","f":6,"x":0.18,"v":170},{"r":"t1","f":6,"x":0.22,"v":200},{"r":"t1","f":6,"x":0.26,"v":230},{"r":"t1","f":6,"x":0.3,"v":255},{"r":"t1","f":6,"x":0.34,"v":270},{"r":"t1","f":6,"x":0.37,"v":283},{"r":"t1","f":6,"x":0.4,"v":265},{"r":"t1","f":6,"x":0.43,"v":275},{"r":"t1","f":6,"x":0.46,"v":283},{"r":"t1","f":6,"x":0.5,"v":260},{"r":"t1","f":6,"x":0.54,"v":225},{"r":"t1","f":6,"x":0.58,"v":205},{"r":"t1","f":6,"x":0.62,"v":195},{"r":"t1","f":6,"x":0.66,"v":185},{"r":"t1","f":6,"x":0.7,"v":170},{"r":"t1","f":6,"x":0.74,"v":150},{"r":"t1","f":6,"x":0.78,"v":125},{"r":"t1","f":6,"x":0.82,"v":100},{"r":"t1","f":6,"x":0.86,"v":85},{"r":"t1","f":6,"x":0.9,"v":70},{"r":"t1","f":6,"x":0.94,"v":65},{"r":"t1","f":6,"x":0.98,"v":60}
]},
"vconcat":[
{"data":{"name":"h"},
 "facet":{"column":{"field":"f","type":"ordinal","title":null,"header":{"labels":false,"title":null}}},
 "spacing":0,
 "spec":{"width":200,"height":44,
  "layer":[
   {"mark":{"type":"rect","fill":"#f3f3f3","stroke":"#d4d4d4","strokeWidth":1,"clip":true},
    "encoding":{"y":{"field":"l","type":"ordinal","axis":null,"scale":{"paddingInner":0,"paddingOuter":0}}}},
   {"mark":{"type":"text","font":"DejaVu Sans","fontSize":15,"color":"#3a3a3a"},
    "encoding":{"x":{"datum":0.5,"type":"quantitative","scale":{"domain":[0,1]},"axis":{"labels":false,"ticks":false,"domain":false,"title":null,"grid":false,"minExtent":0,"maxExtent":0,"labelPadding":0}},
     "y":{"field":"l","type":"ordinal","axis":null},"text":{"field":"t","type":"nominal"}}}
  ]}},
{"data":{"name":"d"},"transform":[{"filter":"datum.r == 'e'"}],
 "facet":{"column":{"field":"f","type":"ordinal","title":null,"header":{"labels":false,"title":null}}},
 "spacing":0,
 "spec":{"width":200,"height":142,
  "layer":[
   {"mark":{"type":"line","strokeWidth":3,"clip":true},
    "encoding":{
     "x":{"field":"x","type":"quantitative","scale":{"domain":[-0.034,1.03],"nice":false,"zero":false},"axis":{"values":[0,0.2,0.4,0.6,0.8,1],"labels":false,"ticks":false,"domain":false,"title":null,"grid":true,"minExtent":0,"maxExtent":0,"labelPadding":0}},
     "y":{"field":"v","type":"quantitative","scale":{"domain":[-20,770],"nice":false,"zero":false},"axis":{"values":[0,250,500,750],"format":"d","domain":false,"tickSize":5,"tickColor":"#cccccc","labelPadding":3,"labelFontSize":12,"labelFlush":true,"labelFlushOffset":2,"grid":true,"title":"e-val <1","titleAngle":0,"titleAlign":"right","titleBaseline":"middle","titleFontSize":36,"titleFontWeight":"normal","titleColor":"#000000","titlePadding":12,"titleLimit":400}},
     "color":{"field":"f","type":"nominal","scale":{"domain":[0,1,2,3,4,5,6],"range":["#649488","#3f7fc0","#ff9a1a","#9acd32","#ff1f74","#b57d4a","#f5c800"]},"legend":null}}},
   {"transform":[{"aggregate":[{"op":"max","field":"v","as":"vmax"}],"groupby":["f"]}],
    "mark":{"type":"rule","strokeWidth":2.5,"opacity":0.55,"clip":true},
    "encoding":{"y":{"field":"vmax","type":"quantitative","axis":{"orient":"right","title":"Sum(e_value_...","labels":false,"ticks":true,"tickSize":20,"tickWidth":2.6,"tickColor":"#efefef","values":[-15,-5,5,15,25,35,45,55,65,75,85,95,105,115,125,135,145,155,165,175,185,195,205,215,225,235,245,255,265,275,285,295,305,315,325,335,345,355,365,375,385,395,405,415,425,435,445,455,465,475,485,495,505,515,525,535,545,555,565,575,585,595,605,615,625,635,645,655,665,675,685,695,705,715,725,735,745,755,765],"grid":false,"domain":false,"titleAngle":90,"titleFontSize":14,"titleFontWeight":"normal","titleColor":"#444444","titlePadding":-10,"titleBaseline":"middle"}},
     "color":{"field":"f","type":"nominal","legend":null}}},
   {"transform":[{"aggregate":[{"op":"max","field":"v","as":"vmax"}],"groupby":["f"]},{"filter":"datum.vmax <= 560"}],
    "mark":{"type":"text","dy":-22,"fontSize":15,"font":"DejaVu Sans","color":"#333333"},
    "encoding":{"x":{"datum":0.76,"type":"quantitative"},"y":{"field":"vmax","type":"quantitative","axis":null},"text":{"field":"vmax","type":"quantitative"}}},
   {"transform":[{"aggregate":[{"op":"max","field":"v","as":"vmax"}],"groupby":["f"]},{"filter":"datum.vmax > 560"}],
    "mark":{"type":"text","dy":24,"fontSize":15,"font":"DejaVu Sans","color":"#333333"},
    "encoding":{"x":{"datum":0.76,"type":"quantitative"},"y":{"field":"vmax","type":"quantitative","axis":null},"text":{"field":"vmax","type":"quantitative"}}}
  ],
  "resolve":{"axis":{"y":"independent"}}}},
{"data":{"name":"d"},"transform":[{"filter":"datum.r == 't30'"}],
 "facet":{"column":{"field":"f","type":"ordinal","title":null,"header":{"labels":false,"title":null}}},
 "spacing":0,
 "spec":{"width":200,"height":142,
  "layer":[
   {"mark":{"type":"line","strokeWidth":3,"clip":true},
    "encoding":{
     "x":{"field":"x","type":"quantitative","scale":{"domain":[-0.034,1.03],"nice":false,"zero":false},"axis":{"values":[0,0.2,0.4,0.6,0.8,1],"labels":false,"ticks":false,"domain":false,"title":null,"grid":true,"minExtent":0,"maxExtent":0,"labelPadding":0}},
     "y":{"field":"v","type":"quantitative","scale":{"domain":[-20,770],"nice":false,"zero":false},"axis":{"values":[0,250,500,750],"format":"d","domain":false,"tickSize":5,"tickColor":"#cccccc","labelPadding":3,"labelFontSize":12,"labelFlush":true,"labelFlushOffset":2,"grid":true,"title":"Top 30","titleAngle":0,"titleAlign":"right","titleBaseline":"middle","titleFontSize":36,"titleFontWeight":"normal","titleColor":"#000000","titlePadding":12,"titleLimit":400}},
     "color":{"field":"f","type":"nominal","scale":{"domain":[0,1,2,3,4,5,6],"range":["#649488","#3f7fc0","#ff9a1a","#9acd32","#ff1f74","#b57d4a","#f5c800"]},"legend":null}}},
   {"transform":[{"aggregate":[{"op":"max","field":"v","as":"vmax"}],"groupby":["f"]}],
    "mark":{"type":"rule","strokeWidth":2.5,"opacity":0.55,"clip":true},
    "encoding":{"y":{"field":"vmax","type":"quantitative","axis":{"orient":"right","title":"Sum(top30)","labels":false,"ticks":true,"tickSize":20,"tickWidth":2.6,"tickColor":"#efefef","values":[-15,-5,5,15,25,35,45,55,65,75,85,95,105,115,125,135,145,155,165,175,185,195,205,215,225,235,245,255,265,275,285,295,305,315,325,335,345,355,365,375,385,395,405,415,425,435,445,455,465,475,485,495,505,515,525,535,545,555,565,575,585,595,605,615,625,635,645,655,665,675,685,695,705,715,725,735,745,755,765],"grid":false,"domain":false,"titleAngle":90,"titleFontSize":14,"titleFontWeight":"normal","titleColor":"#444444","titlePadding":-10,"titleBaseline":"middle"}},
     "color":{"field":"f","type":"nominal","legend":null}}},
   {"transform":[{"aggregate":[{"op":"max","field":"v","as":"vmax"}],"groupby":["f"]},{"filter":"datum.vmax <= 560"}],
    "mark":{"type":"text","dy":-22,"fontSize":15,"font":"DejaVu Sans","color":"#333333"},
    "encoding":{"x":{"datum":0.76,"type":"quantitative"},"y":{"field":"vmax","type":"quantitative","axis":null},"text":{"field":"vmax","type":"quantitative"}}},
   {"transform":[{"aggregate":[{"op":"max","field":"v","as":"vmax"}],"groupby":["f"]},{"filter":"datum.vmax > 560"}],
    "mark":{"type":"text","dy":24,"fontSize":15,"font":"DejaVu Sans","color":"#333333"},
    "encoding":{"x":{"datum":0.76,"type":"quantitative"},"y":{"field":"vmax","type":"quantitative","axis":null},"text":{"field":"vmax","type":"quantitative"}}}
  ],
  "resolve":{"axis":{"y":"independent"}}}},
{"data":{"name":"d"},"transform":[{"filter":"datum.r == 't10'"}],
 "facet":{"column":{"field":"f","type":"ordinal","title":null,"header":{"labels":false,"title":null}}},
 "spacing":0,
 "spec":{"width":200,"height":142,
  "layer":[
   {"mark":{"type":"line","strokeWidth":3,"clip":true},
    "encoding":{
     "x":{"field":"x","type":"quantitative","scale":{"domain":[-0.034,1.03],"nice":false,"zero":false},"axis":{"values":[0,0.2,0.4,0.6,0.8,1],"labels":false,"ticks":false,"domain":false,"title":null,"grid":true,"minExtent":0,"maxExtent":0,"labelPadding":0}},
     "y":{"field":"v","type":"quantitative","scale":{"domain":[-20,770],"nice":false,"zero":false},"axis":{"values":[0,250,500,750],"format":"d","domain":false,"tickSize":5,"tickColor":"#cccccc","labelPadding":3,"labelFontSize":12,"labelFlush":true,"labelFlushOffset":2,"grid":true,"title":"T\u0332o\u0332p\u0332 \u03321\u03320\u0332","titleAngle":0,"titleAlign":"right","titleBaseline":"middle","titleFontSize":36,"titleFontWeight":"normal","titleColor":"#000000","titlePadding":12,"titleLimit":400}},
     "color":{"field":"f","type":"nominal","scale":{"domain":[0,1,2,3,4,5,6],"range":["#649488","#3f7fc0","#ff9a1a","#9acd32","#ff1f74","#b57d4a","#f5c800"]},"legend":null}}},
   {"transform":[{"aggregate":[{"op":"max","field":"v","as":"vmax"}],"groupby":["f"]}],
    "mark":{"type":"rule","strokeWidth":2.5,"opacity":0.55,"clip":true},
    "encoding":{"y":{"field":"vmax","type":"quantitative","axis":{"orient":"right","title":"Sum(top10)","labels":false,"ticks":true,"tickSize":20,"tickWidth":2.6,"tickColor":"#efefef","values":[-15,-5,5,15,25,35,45,55,65,75,85,95,105,115,125,135,145,155,165,175,185,195,205,215,225,235,245,255,265,275,285,295,305,315,325,335,345,355,365,375,385,395,405,415,425,435,445,455,465,475,485,495,505,515,525,535,545,555,565,575,585,595,605,615,625,635,645,655,665,675,685,695,705,715,725,735,745,755,765],"grid":false,"domain":false,"titleAngle":90,"titleFontSize":14,"titleFontWeight":"normal","titleColor":"#444444","titlePadding":-10,"titleBaseline":"middle"}},
     "color":{"field":"f","type":"nominal","legend":null}}},
   {"transform":[{"aggregate":[{"op":"max","field":"v","as":"vmax"}],"groupby":["f"]},{"filter":"datum.vmax <= 560"}],
    "mark":{"type":"text","dy":-22,"fontSize":15,"font":"DejaVu Sans","color":"#333333"},
    "encoding":{"x":{"datum":0.76,"type":"quantitative"},"y":{"field":"vmax","type":"quantitative","axis":null},"text":{"field":"vmax","type":"quantitative"}}},
   {"transform":[{"aggregate":[{"op":"max","field":"v","as":"vmax"}],"groupby":["f"]},{"filter":"datum.vmax > 560"}],
    "mark":{"type":"text","dy":24,"fontSize":15,"font":"DejaVu Sans","color":"#333333"},
    "encoding":{"x":{"datum":0.76,"type":"quantitative"},"y":{"field":"vmax","type":"quantitative","axis":null},"text":{"field":"vmax","type":"quantitative"}}}
  ],
  "resolve":{"axis":{"y":"independent"}}}},
{"data":{"name":"d"},"transform":[{"filter":"datum.r == 't3'"}],
 "facet":{"column":{"field":"f","type":"ordinal","title":null,"header":{"labels":false,"title":null}}},
 "spacing":0,
 "spec":{"width":200,"height":142,
  "layer":[
   {"mark":{"type":"line","strokeWidth":3,"clip":true},
    "encoding":{
     "x":{"field":"x","type":"quantitative","scale":{"domain":[-0.034,1.03],"nice":false,"zero":false},"axis":{"values":[0,0.2,0.4,0.6,0.8,1],"labels":false,"ticks":false,"domain":false,"title":null,"grid":true,"minExtent":0,"maxExtent":0,"labelPadding":0}},
     "y":{"field":"v","type":"quantitative","scale":{"domain":[-20,770],"nice":false,"zero":false},"axis":{"values":[0,250,500,750],"format":"d","domain":false,"tickSize":5,"tickColor":"#cccccc","labelPadding":3,"labelFontSize":12,"labelFlush":true,"labelFlushOffset":2,"grid":true,"title":"Top 3","titleAngle":0,"titleAlign":"right","titleBaseline":"middle","titleFontSize":36,"titleFontWeight":"normal","titleColor":"#000000","titlePadding":12,"titleLimit":400}},
     "color":{"field":"f","type":"nominal","scale":{"domain":[0,1,2,3,4,5,6],"range":["#649488","#3f7fc0","#ff9a1a","#9acd32","#ff1f74","#b57d4a","#f5c800"]},"legend":null}}},
   {"transform":[{"aggregate":[{"op":"max","field":"v","as":"vmax"}],"groupby":["f"]}],
    "mark":{"type":"rule","strokeWidth":2.5,"opacity":0.55,"clip":true},
    "encoding":{"y":{"field":"vmax","type":"quantitative","axis":{"orient":"right","title":"Sum(top3)","labels":false,"ticks":true,"tickSize":20,"tickWidth":2.6,"tickColor":"#efefef","values":[-15,-5,5,15,25,35,45,55,65,75,85,95,105,115,125,135,145,155,165,175,185,195,205,215,225,235,245,255,265,275,285,295,305,315,325,335,345,355,365,375,385,395,405,415,425,435,445,455,465,475,485,495,505,515,525,535,545,555,565,575,585,595,605,615,625,635,645,655,665,675,685,695,705,715,725,735,745,755,765],"grid":false,"domain":false,"titleAngle":90,"titleFontSize":14,"titleFontWeight":"normal","titleColor":"#444444","titlePadding":-10,"titleBaseline":"middle"}},
     "color":{"field":"f","type":"nominal","legend":null}}},
   {"transform":[{"aggregate":[{"op":"max","field":"v","as":"vmax"}],"groupby":["f"]},{"filter":"datum.vmax <= 560"}],
    "mark":{"type":"text","dy":-22,"fontSize":15,"font":"DejaVu Sans","color":"#333333"},
    "encoding":{"x":{"datum":0.76,"type":"quantitative"},"y":{"field":"vmax","type":"quantitative","axis":null},"text":{"field":"vmax","type":"quantitative"}}},
   {"transform":[{"aggregate":[{"op":"max","field":"v","as":"vmax"}],"groupby":["f"]},{"filter":"datum.vmax > 560"}],
    "mark":{"type":"text","dy":24,"fontSize":15,"font":"DejaVu Sans","color":"#333333"},
    "encoding":{"x":{"datum":0.76,"type":"quantitative"},"y":{"field":"vmax","type":"quantitative","axis":null},"text":{"field":"vmax","type":"quantitative"}}}
  ],
  "resolve":{"axis":{"y":"independent"}}}},
{"data":{"name":"d"},"transform":[{"filter":"datum.r == 't1'"}],
 "facet":{"column":{"field":"f","type":"ordinal","title":null,"header":{"labels":false,"title":null}}},
 "spacing":0,
 "spec":{"width":200,"height":142,
  "layer":[
   {"mark":{"type":"line","strokeWidth":3,"clip":true},
    "encoding":{
     "x":{"field":"x","type":"quantitative","scale":{"domain":[-0.034,1.03],"nice":false,"zero":false},"axis":{"values":[0,0.2,0.4,0.6,0.8,1],"format":"~g","labels":true,"labelOverlap":false,"labelSeparation":0,"labelBound":false,"labelFlush":false,"labelFontSize":12,"labelPadding":4,"ticks":false,"domain":false,"title":null,"grid":true}},
     "y":{"field":"v","type":"quantitative","scale":{"domain":[-20,770],"nice":false,"zero":false},"axis":{"values":[0,250,500,750],"format":"d","domain":false,"tickSize":5,"tickColor":"#cccccc","labelPadding":3,"labelFontSize":12,"labelFlush":true,"labelFlushOffset":2,"grid":true,"title":"Top 1","titleAngle":0,"titleAlign":"right","titleBaseline":"middle","titleFontSize":36,"titleFontWeight":"normal","titleColor":"#000000","titlePadding":12,"titleLimit":400}},
     "color":{"field":"f","type":"nominal","scale":{"domain":[0,1,2,3,4,5,6],"range":["#649488","#3f7fc0","#ff9a1a","#9acd32","#ff1f74","#b57d4a","#f5c800"]},"legend":null}}},
   {"transform":[{"aggregate":[{"op":"max","field":"v","as":"vmax"}],"groupby":["f"]}],
    "mark":{"type":"rule","strokeWidth":2.5,"opacity":0.55,"clip":true},
    "encoding":{"y":{"field":"vmax","type":"quantitative","axis":{"orient":"right","title":"Sum(top1)","labels":false,"ticks":true,"tickSize":20,"tickWidth":2.6,"tickColor":"#efefef","values":[-15,-5,5,15,25,35,45,55,65,75,85,95,105,115,125,135,145,155,165,175,185,195,205,215,225,235,245,255,265,275,285,295,305,315,325,335,345,355,365,375,385,395,405,415,425,435,445,455,465,475,485,495,505,515,525,535,545,555,565,575,585,595,605,615,625,635,645,655,665,675,685,695,705,715,725,735,745,755,765],"grid":false,"domain":false,"titleAngle":90,"titleFontSize":14,"titleFontWeight":"normal","titleColor":"#444444","titlePadding":-10,"titleBaseline":"middle"}},
     "color":{"field":"f","type":"nominal","legend":null}}},
   {"transform":[{"aggregate":[{"op":"max","field":"v","as":"vmax"}],"groupby":["f"]},{"filter":"datum.vmax <= 560"}],
    "mark":{"type":"text","dy":-22,"fontSize":15,"font":"DejaVu Sans","color":"#333333"},
    "encoding":{"x":{"datum":0.76,"type":"quantitative","axis":{"values":[0,0.2,0.4,0.6,0.8,1],"format":"~g","labelOverlap":false}},"y":{"field":"vmax","type":"quantitative","axis":null},"text":{"field":"vmax","type":"quantitative"}}},
   {"transform":[{"aggregate":[{"op":"max","field":"v","as":"vmax"}],"groupby":["f"]},{"filter":"datum.vmax > 560"}],
    "mark":{"type":"text","dy":24,"fontSize":15,"font":"DejaVu Sans","color":"#333333"},
    "encoding":{"x":{"datum":0.76,"type":"quantitative","axis":{"values":[0,0.2,0.4,0.6,0.8,1],"format":"~g","labelOverlap":false}},"y":{"field":"vmax","type":"quantitative","axis":null},"text":{"field":"vmax","type":"quantitative"}}}
  ],
  "resolve":{"axis":{"y":"independent"}}}}
]
}
